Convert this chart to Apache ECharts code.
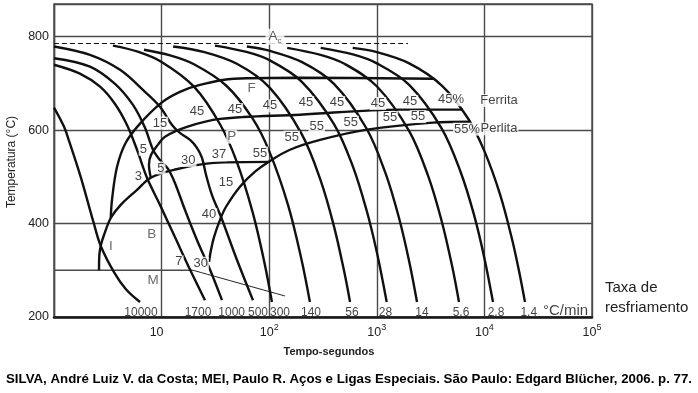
<!DOCTYPE html>
<html><head><meta charset="utf-8">
<script src="https://cdn.jsdelivr.net/npm/echarts/dist/echarts.min.js"></script>
<style>html,body{margin:0;padding:0;background:#fff}#c{width:698px;height:393px}</style>
</head><body><div id="c"></div>
<script>
// ---- Cooling curves: [time (s), temperature (°C)] ----
const rateNames = ['10000','1700','1000','500','300','140','56','28','14','5.6','2.8','1.4'];
const curve_10000 = [[1,648],[1.24,607],[1.38,577],[1.77,500],[2.32,404],[2.72,352],[3.61,296],[4.64,260],[6.3,232]];
const curve_1700 = [[1,740],[1.74,721],[2.68,693],[3.69,656],[4.77,611],[5.91,558],[7.32,498],[9.66,440],[13.3,371],[18.4,301],[25.3,236]];
const curve_1000 = [[1,754],[2.16,736],[3.69,699],[5.42,654],[7.01,605],[8.32,558],[9.66,536],[11.47,517],[13.3,487],[16.5,429],[21.3,365],[28.2,301],[36.4,236]];
const curve_500 = [[1,779],[2.16,761],[4.11,729],[7.01,682],[9.66,650],[12.5,611],[14.8,594],[18.4,579],[21.3,562],[23.7,541],[25.9,504],[29.4,461],[35.7,414],[50.2,322],[70.7,236]];
const curve_300 = [[3.53,781],[6,768],[10,746],[20,693],[35,612],[50,532],[70,425],[90,318],[106,232]];
const curve_140 = [[6.85,772],[12,760],[20,741],[40,695],[70,625],[100,555],[150,439],[200,322],[239,232]];
const curve_56 = [[12.8,779],[25,767],[50,742],[100,692],[200,592],[300,493],[400,394],[500,295],[564,232]];
const curve_28 = [[31.3,781],[60,768],[100,750],[200,704],[400,613],[600,522],[800,430],[1000,339],[1236,232]];
const curve_14 = [[62,779],[100,770],[200,746],[400,699],[800,604],[1200,509],[1600,414],[2000,319],[2365,232]];
const curve_5_6 = [[147,776],[300,761],[500,742],[1000,694],[2000,598],[3000,502],[4000,406],[5000,310],[5807,232]];
const curve_2_8 = [[301,776],[600,762],[1000,743],[2000,697],[4000,604],[6000,511],[8000,419],[10000,326],[12020,232]];
const curve_1_4 = [[597,776],[1000,767],[2000,743],[4000,696],[7000,626],[10000,555],[14000,462],[18000,368],[21000,298],[23830,232]];

// ---- Transformation lines ----
const ferriteStart = [[3.37,412],[3.46,451],[3.85,521],[4.64,573],[6.3,614],[10,659],[14.8,682],[22.7,697],[47,710],[193,712],[3420,710]];
const pearliteStart = [[7.92,499],[7.63,526],[7.97,547],[9.26,569],[10.75,586],[17.2,607],[34.9,624],[193,633],[1644,644],[6324,644]];
const bainiteArc = [[2.62,300],[2.64,333],[2.73,354],[2.92,376],[3.37,412],[4.17,440],[5.91,472],[7.92,498],[13.0,515],[30.7,530],[101.7,532]];
const pearliteFinish = [[27.6,318],[28.8,344],[30.7,371],[34.9,408],[39.7,436],[53.5,479],[73.8,511],[101.7,534],[156,558],[297,579],[811,601],[3327,616],[7345,618]];
const msFlat = [[1,300],[19.6,300]];
const msSlope = [[19.6,300],[140,245]];
const acLine = [[1,785.5],[1950,785.5]];

// ---- Annotations ----
const pct45 = [[21.3,640],[48.1,644],[101.7,652],[219.8,659],[426.6,659],[1026,657],[2036,661]];
const pct55 = [[82.1,551],[161.9,585],[276.3,607],[571.9,617],[1327,627],[2415,629]];
const pctOther = [['15',9.66,615],['5',6.76,559],['5',9.87,519],['3',6.07,501],['30',17.7,535],['37',34.2,547],['15',39.7,489],['40',27.6,419],['7',14.5,318],['30',23.1,315]];
const phaseLetters = [['F',68.8,690],['P',44.8,586],['B',8.09,377],['M',8.32,279],['I',3.37,351]];
const rateLabelTime = [6.44,21.8,44.8,78.7,126,244.5,588,1205,2630,6060,12820,25820];
const rateLabelTemp = 209;
const endLabels = [['45%',4894,665],['55%',6890,602],['Ferrita',13670,663.5],['Perlita',13670,603]];
const xTicks = [1,10,100,1000,10000,100000];
const yTicks = [200,400,600,800];
const caption = 'SILVA, André Luiz V. da Costa; MEI, Paulo R. Aços e Ligas Especiais. São Paulo: Edgard Blücher, 2006. p. 77.';

const FONT = '"Liberation Sans", Arial, sans-serif';
const BLACK = '#111';
const GRIDC = '#4a4a4a';

function lineSeries(data, lineStyle, z) {
  return {type:'line', data, showSymbol:false, symbol:'none', smooth:0.35, silent:true, animation:false,
    z: z || 3, lineStyle: Object.assign({color:BLACK, width:2.4}, lineStyle || {})};
}
function labelSeries(items, fontSize, color, bg, z) {
  return {type:'scatter', symbolSize:1, itemStyle:{color:'rgba(0,0,0,0)'}, silent:true, animation:false, z: z || 10,
    data: items.map(it => ({value:[it[1], it[2]], name: it[0]})),
    label:{show:true, position:'inside', formatter:'{b}', fontSize, fontFamily:FONT, color,
      backgroundColor: bg ? '#fff' : 'transparent', padding: bg ? [0,1] : 0}};
}

const curves = [curve_10000, curve_1700, curve_1000, curve_500, curve_300, curve_140, curve_56, curve_28, curve_14, curve_5_6, curve_2_8, curve_1_4];
const series = [];
curves.forEach(c => series.push(lineSeries(c)));
series.push(lineSeries(ferriteStart));
series.push(lineSeries(pearliteStart));
series.push(lineSeries(bainiteArc));
series.push(lineSeries(pearliteFinish));
series.push(lineSeries(msFlat, {color:GRIDC, width:1.4}, 2));
series.push(lineSeries(msSlope, {color:'#222', width:1}, 2));
series.push(lineSeries(acLine, {color:BLACK, width:1.2, type:[5,3]}, 2));

series.push(labelSeries(pct45.map(p => ['45', p[0], p[1]]), 13, '#111', true));
series.push(labelSeries(pct55.map(p => ['55', p[0], p[1]]), 13, '#111', true));
series.push(labelSeries(pctOther, 13, '#111', true));
series.push(labelSeries(phaseLetters, 13.5, '#444', true));
series.push(labelSeries(endLabels, 13, '#111', true));
series.push(labelSeries(rateNames.map((n,i) => [n, rateLabelTime[i], rateLabelTemp]), 12, '#111', false));
// A_c label
series.push({type:'scatter', symbolSize:1, itemStyle:{color:'rgba(0,0,0,0)'}, silent:true, animation:false, z:10,
  data:[{value:[113.2,800], name:'Ac'}],
  label:{show:true, position:'inside', formatter:'{a|A}{c|c}', backgroundColor:'#fff', padding:[0,3],
    rich:{a:{fontSize:13.5, fontFamily:FONT, color:'#333', lineHeight:16, verticalAlign:'middle'},
          c:{fontSize:8, fontFamily:FONT, color:'#333', lineHeight:16, verticalAlign:'bottom', padding:[6,0,0,0]}}}});
// °C/min
series.push(labelSeries([['°C/min', 56750, 213.5]], 15, '#111', false));

function measure(txt, font) {
  const ctx = document.createElement('canvas').getContext('2d');
  ctx.font = font; return ctx.measureText(txt).width;
}
const capW = measure(caption, 'bold 13px "Liberation Sans"');
const capScale = 686 / capW;

const chart = echarts.init(document.getElementById('c'), null, {renderer:'canvas'});
chart.setOption({
  animation:false,
  backgroundColor:'#fff',
  grid:{left:54, right:106, top:4, bottom:76, show:true, borderColor:GRIDC, borderWidth:1.4, outerBoundsMode:'none'},
  xAxis:{type:'log', logBase:10, min:xTicks[0], max:xTicks[xTicks.length-1],
    axisLine:{show:true, onZero:false, lineStyle:{color:'#1a1a1a', width:2.6}},
    axisTick:{show:false}, minorTick:{show:false},
    splitLine:{show:true, lineStyle:{color:GRIDC, width:1.4}},
    axisLabel:{margin:6, formatter:function(v){
        const e = Math.round(Math.log10(v));
        if (e === 0) return '';
        if (e === 1) return '{t|10}';
        return '{b|10}{s|' + e + '}';
      },
      rich:{t:{fontSize:12.5, fontFamily:FONT, color:'#222', lineHeight:16, verticalAlign:'bottom', padding:[0,10,0,0]},
            b:{fontSize:12.5, fontFamily:FONT, color:'#222', lineHeight:16, verticalAlign:'bottom'},
            s:{fontSize:9, fontFamily:FONT, color:'#222', lineHeight:9, verticalAlign:'top'}}}},
  yAxis:{type:'value', min:yTicks[0], max:870, interval:200,
    axisLine:{show:true, lineStyle:{color:GRIDC, width:1.4}},
    axisTick:{show:false},
    splitLine:{show:true, lineStyle:{color:GRIDC, width:1.4}},
    axisLabel:{margin:5, fontSize:12.5, fontFamily:FONT, color:'#222',
      formatter:function(v){ return yTicks.indexOf(v) >= 0 ? String(v) : ''; }}},
  graphic:[
    {type:'text', x:12, y:162, rotation:Math.PI/2,
      style:{text:'Temperatura (°C)', fontSize:12, fontFamily:FONT, fill:'#222', align:'center', verticalAlign:'middle'}},
    {type:'text', x:329, y:352,
      style:{text:'Tempo-segundos', fontSize:11, fontWeight:'bold', fontFamily:FONT, fill:'#222', align:'center', verticalAlign:'middle'}},
    {type:'text', x:605, y:288,
      style:{text:'Taxa de', fontSize:15, fontFamily:FONT, fill:'#222', align:'left', verticalAlign:'middle'}},
    {type:'text', x:605, y:308,
      style:{text:'resfriamento', fontSize:15, fontFamily:FONT, fill:'#222', align:'left', verticalAlign:'middle'}},
    {type:'text', x:6, y:379, scaleX:capScale,
      style:{text:caption, fontSize:13, fontWeight:'bold', fontFamily:'"Liberation Sans"', fill:'#000', align:'left', verticalAlign:'middle'}}
  ],
  series
});
</script></body></html>
